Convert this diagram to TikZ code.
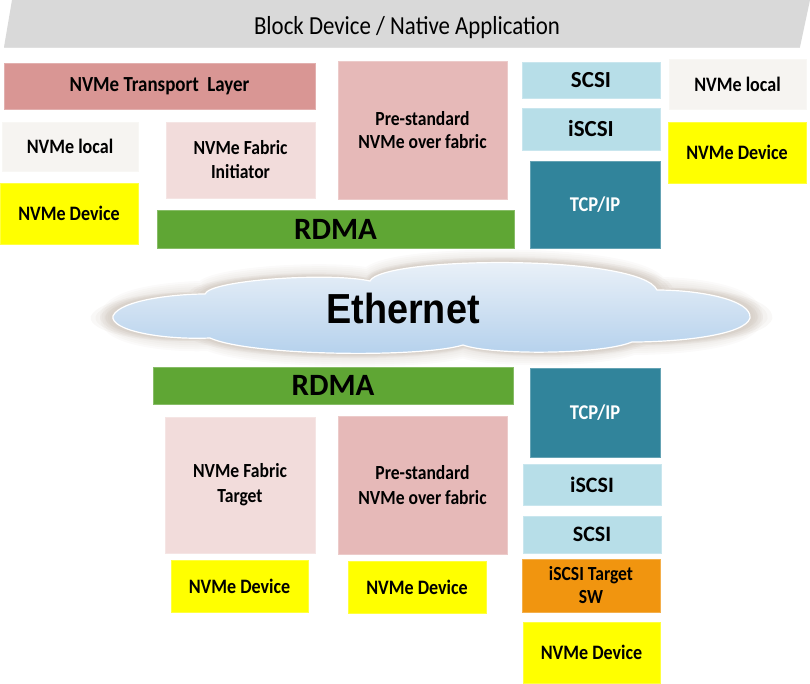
\documentclass[tikz,border=0pt]{standalone}
\usepackage{fontspec}
\setmainfont{Carlito}[FakeStretch=0.88]
\newfontfamily\plainfont{Carlito}
\newfontfamily\ethfont{Liberation Sans}[FakeStretch=0.9]
\definecolor{bannerc}{HTML}{D9D9D9}
\definecolor{transc}{HTML}{D99694}
\definecolor{localc}{HTML}{F6F4F1}
\definecolor{devc}{HTML}{FFFF00}
\definecolor{fabc}{HTML}{F2DCDB}
\definecolor{prec}{HTML}{E6B9B8}
\definecolor{rdmac}{HTML}{5FA634}
\definecolor{scsic}{HTML}{B7DEE8}
\definecolor{tcpc}{HTML}{31849B}
\definecolor{tgtc}{HTML}{F1950F}
\definecolor{cloudtop}{HTML}{EEF3F9}
\definecolor{cloudbot}{HTML}{B3D0EC}
\definecolor{cloudsh}{HTML}{9C8A78}
\def\cloudpath{(113,316) .. controls (120,300) and (175,294) .. (205,294)
 .. controls (210,280) and (330,272) .. (370,281)
 .. controls (382,256) and (640,254) .. (657,290)
 .. controls (700,290) and (752,300) .. (750,318)
 .. controls (745,335) and (680,342) .. (632,342)
 .. controls (600,355) and (490,355) .. (463,345)
 .. controls (420,358) and (250,356) .. (210,338)
 .. controls (160,340) and (110,330) .. (113,316) -- cycle}
\begin{document}
\begin{tikzpicture}[x=1pt,y=-1pt,
  box/.style={rectangle, inner sep=0pt, fill=#1, draw=#1!75!white, line width=0.8pt, align=center, text=black},
  lbl/.style={font=\bfseries\fontsize{20.5}{24}\selectfont},
  big/.style={font=\plainfont\bfseries\fontsize{23}{26}\selectfont},
  rd/.style={font=\plainfont\bfseries\fontsize{31}{34}\selectfont}]
\useasboundingbox (0,0) rectangle (810,683);
% banner
\fill[bannerc] (12,0) -- (810,0) -- (800,47) -- (4,47) -- cycle;
\draw[black!12, line width=1pt] (4,47.5) -- (800,47.5);
\node[font=\fontsize{26}{30}\selectfont] (banner) at (407,28) {Block Device / Native Application};
% top left
\node[box=transc, lbl, font=\bfseries\fontsize{21.5}{24}\selectfont, minimum width=311pt, minimum height=46pt] (transport) at (159.5,86) {NVMe Transport\ \ Layer};
\node[box=localc, lbl, minimum width=136pt, minimum height=49pt] (localL) at (70,146.5) {NVMe local};
\node[box=devc, lbl, minimum width=138pt, minimum height=61pt] (devL) at (69,213.5) {NVMe Device};
\node[box=fabc, lbl, font=\bfseries\fontsize{20}{24}\selectfont, minimum width=149pt, minimum height=76pt] (initiator) at (240.5,160) {NVMe Fabric\\Initiator};
\node[box=prec, lbl, font=\bfseries\fontsize{20}{23}\selectfont, minimum width=169pt, minimum height=138pt] (preT) at (422.5,130) {Pre-standard\\NVMe over fabric};
\node[box=rdmac, rd, minimum width=357pt, minimum height=38pt] (rdmaT) at (335.5,229) {RDMA};
\node[box=scsic, big, minimum width=138pt, minimum height=36pt] (scsiT) at (591,80) {SCSI};
\node[box=scsic, big, minimum width=138pt, minimum height=42pt] (iscsiT) at (591,129) {iSCSI};
\node[box=tcpc, font=\bfseries\fontsize{21}{24}\selectfont, text=white, minimum width=130pt, minimum height=87pt] (tcpT) at (595,204.5) {TCP/IP};
\node[box=localc, lbl, minimum width=137pt, minimum height=50pt] (localR) at (737.5,84) {NVMe local};
\node[box=devc, lbl, minimum width=138pt, minimum height=61pt] (devR) at (737,152.5) {NVMe Device};
% cloud halo
\foreach \s in {1.07,1.055,1.04,1.025} {
  \fill[cloudsh, opacity=0.06, shift={(431,312)}, xscale=\s, yscale=1+(\s-1)*1.6, shift={(-431,-312)}] \cloudpath;}
\foreach \w in {26,22,...,4} {\draw[cloudsh, line width=\w pt, opacity=0.04, line join=round] \cloudpath;}
\shade[top color=cloudtop, bottom color=cloudbot] \cloudpath;
\draw[white, line width=1.2pt] \cloudpath;
\node[font=\ethfont\bfseries\fontsize{42}{46}\selectfont] (eth) at (403,308) {Ethernet};
% bottom
\node[box=rdmac, rd, minimum width=360pt, minimum height=37pt] (rdmaB) at (333,385.5) {RDMA};
\node[box=tcpc, font=\bfseries\fontsize{21}{24}\selectfont, text=white, minimum width=130pt, minimum height=89pt] (tcpB) at (595,412.5) {TCP/IP};
\node[box=fabc, font=\bfseries\fontsize{20}{25}\selectfont, minimum width=150pt, minimum height=136pt] (target) at (240,485) {NVMe Fabric\\Target};
\node[box=prec, font=\bfseries\fontsize{20}{25}\selectfont, minimum width=169pt, minimum height=138pt] (preB) at (422.5,485) {Pre-standard\\NVMe over fabric};
\node[box=scsic, big, font=\plainfont\bfseries\fontsize{22}{26}\selectfont, minimum width=138pt, minimum height=41pt] (iscsiB) at (592,484.5) {iSCSI};
\node[box=scsic, big, font=\plainfont\bfseries\fontsize{22}{26}\selectfont, minimum width=138pt, minimum height=37pt] (scsiB) at (592,534.5) {SCSI};
\node[box=tgtc, font=\bfseries\fontsize{20}{23}\selectfont, minimum width=138pt, minimum height=53pt] (tgtsw) at (591,585.5) {iSCSI Target\\SW};
\node[box=devc, lbl, minimum width=137pt, minimum height=61pt] (devB3) at (591.5,652.5) {NVMe Device};
\node[box=devc, lbl, minimum width=137pt, minimum height=52pt] (devB1) at (239.5,586) {NVMe Device};
\node[box=devc, lbl, minimum width=138pt, minimum height=52pt] (devB2) at (417,587) {NVMe Device};
\end{tikzpicture}
\end{document}
